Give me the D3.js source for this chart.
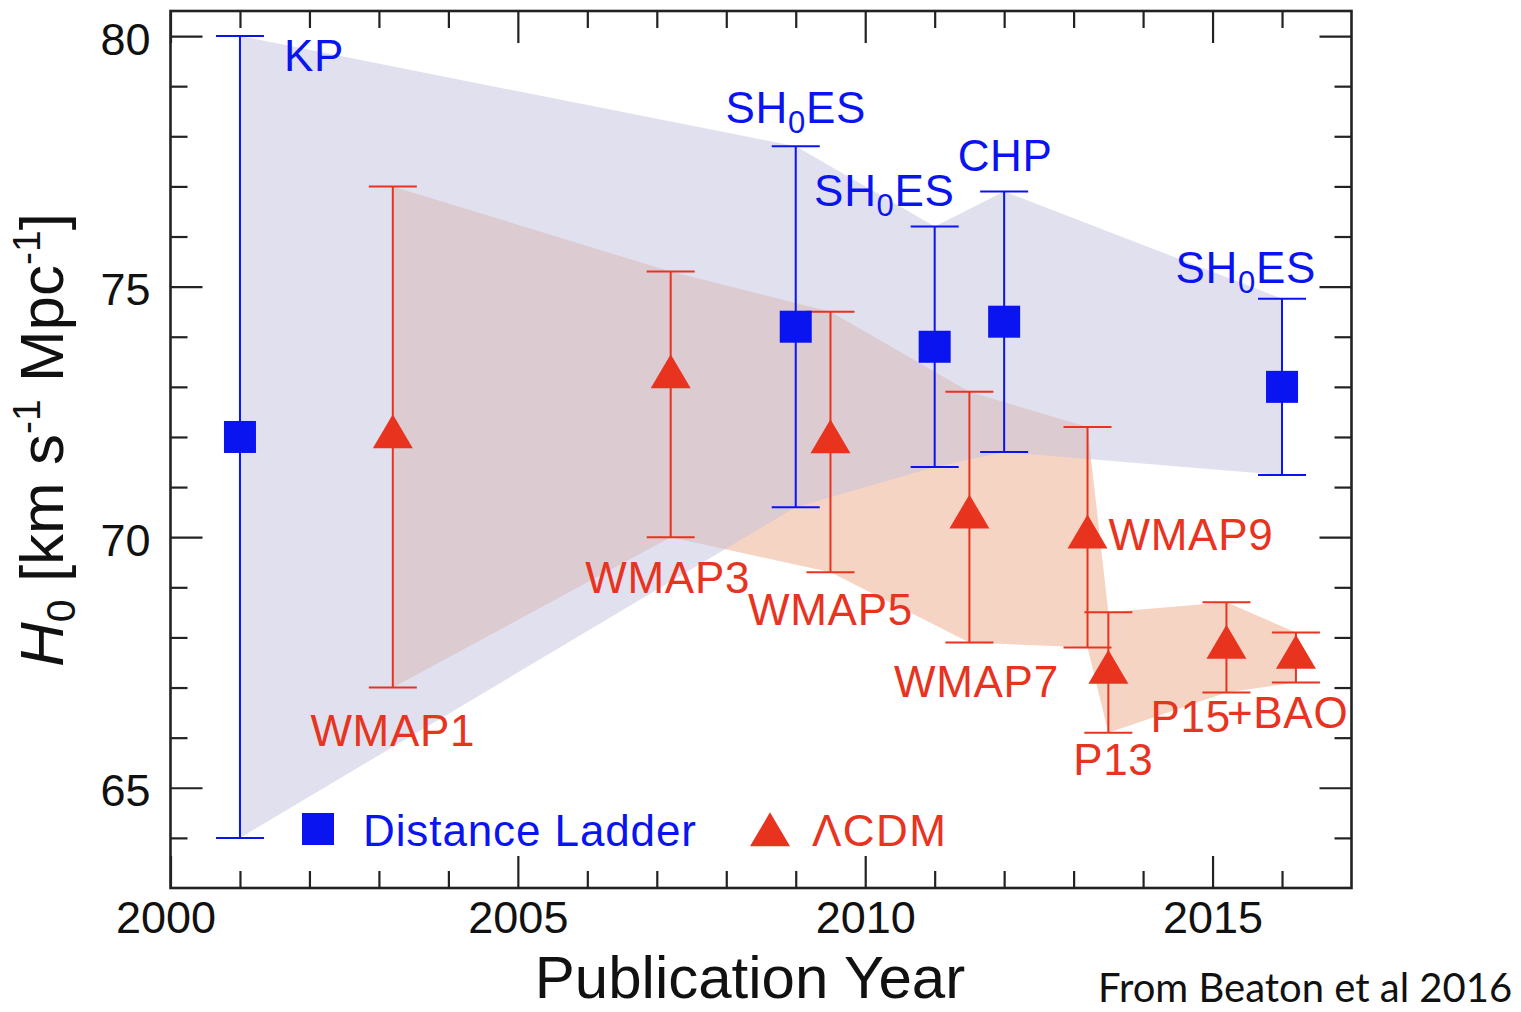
<!DOCTYPE html>
<html>
<head>
<meta charset="utf-8">
<script src="https://cdn.jsdelivr.net/npm/d3@7"></script>
<style>
  html, body { margin: 0; padding: 0; background: #fff; }
  svg { display: block; }
</style>
</head>
<body>
<svg id="chart" width="1521" height="1012"></svg>
<script>
// Distance-ladder measurements of H0 (km/s/Mpc)
const ladderLabels = ["KP", "SH0ES", "SH0ES", "CHP", "SH0ES"];
const ladderYears  = [2001, 2009, 2011, 2012, 2016];
const ladderH0     = [72.0, 74.2, 73.8, 74.3, 73.0];
const ladderLow    = [64.0, 70.6, 71.4, 71.7, 71.24];
const ladderHigh   = [80.0, 77.8, 76.2, 76.9, 74.76];

// CMB-based (ΛCDM) inferences of H0 (km/s/Mpc)
const cmbLabels = ["WMAP1", "WMAP3", "WMAP5", "WMAP7", "WMAP9", "P13", "P15", "+BAO"];
const cmbYears  = [2003.2, 2007.2, 2009.5, 2011.5, 2013.2, 2013.5, 2015.2, 2016.2];
const cmbH0     = [72.0, 73.2, 71.9, 70.4, 70.0, 67.3, 67.8, 67.6];
const cmbLow    = [67.0, 70.0, 69.3, 67.9, 67.8, 66.1, 66.9, 67.1];
const cmbHigh   = [77.0, 75.3, 74.5, 72.9, 72.2, 68.5, 68.7, 68.1];

// Axes
const xDomain = [2000, 2017];
const yDomain = [63, 80.5];
const xTickLabels = ["2000", "2005", "2010", "2015"];
const yTickLabels = ["65", "70", "75", "80"];
const legendLabels = ["Distance Ladder", "ΛCDM"];
const xTitle = "Publication Year";
const creditText = "From Beaton et al 2016";

// ---- layout & style ----
const BLUE = "#0a14f0", RED = "#e8341f", INK = "#222";
const FONT = "'Liberation Sans', Arial, Helvetica, sans-serif";
const LABEL_SIZE = "44px", LABEL_SPACING = "0.7px";
const plot = { left: 170.5, right: 1351.5, top: 11, bottom: 888 };

// label placement relative to each error bar: ref = which end of the bar
const ladderLabelPos = [
  { anchor: "start",  dx: 44, ref: "hi", dy: 35 },
  { anchor: "middle", dx: 0,  ref: "hi", dy: -23 },
  { anchor: "end",    dx: 20, ref: "hi", dy: -20 },
  { anchor: "middle", dx: 1,  ref: "hi", dy: -20 },
  { anchor: "end",    dx: 34, ref: "hi", dy: -16 }
];
const cmbLabelPos = [
  { anchor: "middle", dx: 0,   ref: "lo",  dy: 58 },
  { anchor: "middle", dx: -3,  ref: "lo",  dy: 56 },
  { anchor: "middle", dx: 0,   ref: "lo",  dy: 53 },
  { anchor: "middle", dx: 7,   ref: "lo",  dy: 55 },
  { anchor: "start",  dx: 21,  ref: "mid", dy: 13 },
  { anchor: "middle", dx: 5,   ref: "lo",  dy: 42 },
  { anchor: "start",  dx: -76, ref: "lo",  dy: 39 },
  { anchor: "start",  dx: -69, ref: "lo",  dy: 45 }
];

const svg = d3.select("#chart");

const x = d3.scaleLinear().domain(xDomain).range([plot.left, plot.right]);
const y = d3.scaleLinear().domain(yDomain).range([plot.bottom, plot.top]);

const ladder = ladderYears.map((yr, i) => ({
  label: ladderLabels[i], year: yr, h0: ladderH0[i], lo: ladderLow[i], hi: ladderHigh[i], pos: ladderLabelPos[i]
}));
const cmb = cmbYears.map((yr, i) => ({
  label: cmbLabels[i], year: yr, h0: cmbH0[i], lo: cmbLow[i], hi: cmbHigh[i], pos: cmbLabelPos[i]
}));

// ---- shaded envelopes spanning the error bars ----
const band = d3.area()
  .x(d => x(d.year))
  .y0(d => y(d.lo))
  .y1(d => y(d.hi));

svg.append("path").datum(cmb)
  .attr("d", band)
  .attr("fill", "#f6d4c4");

svg.append("path").datum(ladder)
  .attr("d", band)
  .attr("fill", "rgb(195,193,223)")
  .attr("fill-opacity", 0.5);

// ---- axes: ticks on all four sides, pointing inwards ----
const majorLen = 32, minorLen = 17;
const xMajor = xTickLabels.map(Number);
const yMajor = yTickLabels.map(Number);
const xMinor = d3.range(Math.ceil(xDomain[0]), Math.floor(xDomain[1]) + 1).filter(v => !xMajor.includes(v) && v > xDomain[0] && v < xDomain[1]);
const yMinor = d3.range(Math.ceil(yDomain[0]), Math.floor(yDomain[1]) + 1).filter(v => !yMajor.includes(v) && v > yDomain[0] && v < yDomain[1]);

function styleAxis(g) {
  g.select(".domain").remove();
  g.selectAll(".tick line").attr("stroke", INK).attr("stroke-width", 2.2);
  g.selectAll(".tick text").attr("fill", "#111").style("font-family", FONT).style("font-size", "45px");
}

const axes = svg.append("g");
// bottom
axes.append("g").attr("transform", `translate(0,${plot.bottom})`)
  .call(d3.axisBottom(x).tickValues(xMinor).tickSizeInner(-minorLen).tickSizeOuter(0).tickFormat(""))
  .call(styleAxis);
const xAxisG = axes.append("g").attr("transform", `translate(0,${plot.bottom})`)
  .call(d3.axisBottom(x).tickValues(xMajor).tickSizeInner(-majorLen).tickSizeOuter(0).tickPadding(13).tickFormat((d, i) => xTickLabels[i]))
  .call(styleAxis);
xAxisG.selectAll(".tick text").attr("dx", (d, i) => i === 0 ? -5 : 0);
// top
axes.append("g").attr("transform", `translate(0,${plot.top})`)
  .call(d3.axisTop(x).tickValues(xMinor).tickSizeInner(-minorLen).tickSizeOuter(0).tickFormat(""))
  .call(styleAxis);
axes.append("g").attr("transform", `translate(0,${plot.top})`)
  .call(d3.axisTop(x).tickValues(xMajor).tickSizeInner(-majorLen).tickSizeOuter(0).tickFormat(""))
  .call(styleAxis);
// left
axes.append("g").attr("transform", `translate(${plot.left},0)`)
  .call(d3.axisLeft(y).tickValues(yMinor).tickSizeInner(-minorLen).tickSizeOuter(0).tickFormat(""))
  .call(styleAxis);
const yAxisG = axes.append("g").attr("transform", `translate(${plot.left},0)`)
  .call(d3.axisLeft(y).tickValues(yMajor).tickSizeInner(-majorLen).tickSizeOuter(0).tickPadding(20).tickFormat((d, i) => yTickLabels[i]))
  .call(styleAxis);
yAxisG.selectAll(".tick text").attr("dy", "0.4em");
// right
axes.append("g").attr("transform", `translate(${plot.right},0)`)
  .call(d3.axisRight(y).tickValues(yMinor).tickSizeInner(-minorLen).tickSizeOuter(0).tickFormat(""))
  .call(styleAxis);
axes.append("g").attr("transform", `translate(${plot.right},0)`)
  .call(d3.axisRight(y).tickValues(yMajor).tickSizeInner(-majorLen).tickSizeOuter(0).tickFormat(""))
  .call(styleAxis);

// frame
svg.append("rect")
  .attr("x", plot.left).attr("y", plot.top)
  .attr("width", plot.right - plot.left).attr("height", plot.bottom - plot.top)
  .attr("fill", "none").attr("stroke", INK).attr("stroke-width", 2.6);

// ---- error bars ----
const capHalf = 24;
function drawErrorBars(data, color) {
  const g = svg.append("g").attr("stroke", color).attr("stroke-width", 2).attr("fill", "none");
  g.selectAll(".stem").data(data).join("line")
    .attr("x1", d => x(d.year)).attr("x2", d => x(d.year))
    .attr("y1", d => y(d.lo)).attr("y2", d => y(d.hi));
  g.selectAll(".capHi").data(data).join("line")
    .attr("x1", d => x(d.year) - capHalf).attr("x2", d => x(d.year) + capHalf)
    .attr("y1", d => y(d.hi)).attr("y2", d => y(d.hi));
  g.selectAll(".capLo").data(data).join("line")
    .attr("x1", d => x(d.year) - capHalf).attr("x2", d => x(d.year) + capHalf)
    .attr("y1", d => y(d.lo)).attr("y2", d => y(d.lo));
}
drawErrorBars(ladder, BLUE);
drawErrorBars(cmb, RED);

// ---- markers ----
const sq = 32;
const triW = 40, triH = 34;
const triPath = `M0,${-triH * 2 / 3}L${triW / 2},${triH / 3}L${-triW / 2},${triH / 3}Z`;

svg.append("g").selectAll("rect").data(ladder).join("rect")
  .attr("x", d => x(d.year) - sq / 2).attr("y", d => y(d.h0) - sq / 2)
  .attr("width", sq).attr("height", sq).attr("fill", BLUE);

svg.append("g").selectAll("path").data(cmb).join("path")
  .attr("transform", d => `translate(${x(d.year)},${y(d.h0)})`)
  .attr("d", triPath).attr("fill", RED);

// ---- point labels ----
function writeLabel(sel, text) {
  const m = text.match(/^(.*H)0(.*)$/);
  if (m) {
    sel.append("tspan").text(m[1]);
    sel.append("tspan").attr("dy", 10).style("font-size", "31px").text("0");
    sel.append("tspan").attr("dy", -10).text(m[2]);
  } else {
    sel.text(text);
  }
}
function drawLabels(data, color) {
  const g = svg.append("g").attr("fill", color)
    .style("font-family", FONT).style("font-size", LABEL_SIZE).style("letter-spacing", LABEL_SPACING);
  data.forEach(d => {
    const p = d.pos;
    const refY = p.ref === "hi" ? y(d.hi) : p.ref === "lo" ? y(d.lo) : y(d.h0);
    const t = g.append("text")
      .attr("x", x(d.year) + p.dx)
      .attr("y", refY + p.dy)
      .attr("text-anchor", p.anchor);
    writeLabel(t, d.label);
  });
}
drawLabels(ladder, BLUE);
drawLabels(cmb, RED);

// ---- legend ----
const legend = svg.append("g")
  .style("font-family", FONT).style("font-size", LABEL_SIZE).style("letter-spacing", "0.9px");
legend.append("rect").attr("x", 318 - sq / 2).attr("y", 829 - sq / 2).attr("width", sq).attr("height", sq).attr("fill", BLUE);
legend.append("text").attr("x", 363).attr("y", 846).attr("fill", BLUE).text(legendLabels[0]);
legend.append("path").attr("transform", "translate(770,835)").attr("d", triPath).attr("fill", RED);
legend.append("text").attr("x", 812).attr("y", 846).attr("fill", RED).style("letter-spacing", "1.4px").text(legendLabels[1]);

// ---- axis titles ----
svg.append("text")
  .attr("x", 750).attr("y", 998)
  .attr("text-anchor", "middle")
  .attr("fill", "#111")
  .style("font-family", FONT).style("font-size", "60px")
  .text(xTitle);

const yt = svg.append("text")
  .attr("transform", "translate(63,440) rotate(-90)")
  .attr("text-anchor", "middle")
  .attr("fill", "#111")
  .style("font-family", FONT).style("font-size", "62px");
yt.append("tspan").style("font-style", "italic").text("H");
yt.append("tspan").attr("dy", 12).style("font-size", "41px").text("0");
yt.append("tspan").attr("dy", -12).text(" [km s");
yt.append("tspan").attr("dy", -23).style("font-size", "39px").text("-1");
yt.append("tspan").attr("dy", 23).text(" Mpc");
yt.append("tspan").attr("dy", -23).style("font-size", "39px").text("-1");
yt.append("tspan").attr("dy", 23).text("]");

// credit line
svg.append("text")
  .attr("x", 1098).attr("y", 1002)
  .attr("fill", "#111")
  .style("font-family", "Lato, 'Open Sans', sans-serif").style("font-size", "40px")
  .text(creditText);
</script>
</body>
</html>
